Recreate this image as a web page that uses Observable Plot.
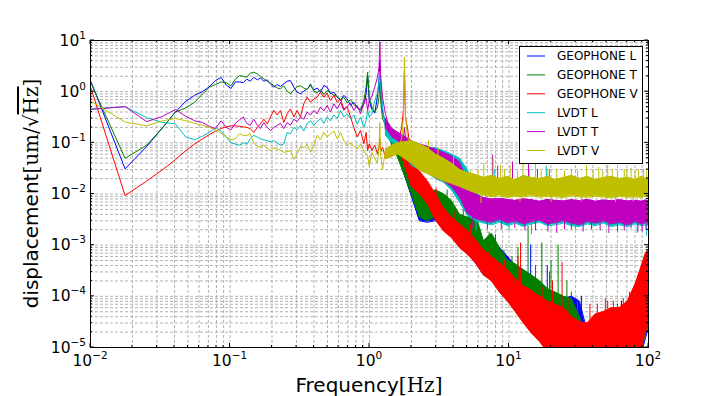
<!DOCTYPE html>
<html><head><meta charset="utf-8">
<script src="https://cdn.jsdelivr.net/npm/d3@7"></script>
<script src="https://cdn.jsdelivr.net/npm/@observablehq/plot@0.6"></script>
<style>body{margin:0;background:#fff;} #chart{width:720px;height:396px;}</style>
</head><body><div id="chart"></div>
<script>
// ---------- DATA ----------
const fLow = [0.0101, 0.0177, 0.0253, 0.033, 0.0406, 0.0482, 0.0558, 0.0635, 0.0711, 0.0787, 0.0863, 0.094, 0.1016, 0.1092, 0.1168, 0.1245, 0.1321, 0.1397];
const fMid = [0.148, 0.157, 0.165, 0.175, 0.185, 0.195, 0.206, 0.218,
  0.230, 0.243, 0.257, 0.271, 0.287, 0.303, 0.320, 0.338,
  0.357, 0.378, 0.399, 0.422, 0.445, 0.471, 0.497, 0.525,
  0.555, 0.587, 0.620, 0.655, 0.692, 0.731, 0.772, 0.816,
  0.862, 0.911, 0.945, 0.970, 0.995, 1.04, 1.09, 1.14,
  1.17, 1.186, 1.20, 1.24, 1.30, 1.37, 1.45, 1.53,
  1.62, 1.70, 1.75, 1.78, 1.81, 1.87, 1.95, 2.05];
const fHigh = [1.3, 1.45, 1.6, 2.0, 2.28, 2.6, 2.97, 3.39, 3.87, 4.42, 5.04,
  5.75, 6.57, 7.49, 8.55, 9.76, 11.1, 12.7, 14.5,
  16.6, 18.9, 21.5, 24.6, 28.1, 32.0, 36.5, 41.7,
  47.6, 54.3, 62.0, 70.7, 80.7, 89.1, 95.1, 100];

// GEOPHONE L
const geoL_low = [1.55, 0.031, 0.085, 0.2, 0.40, 0.65, 0.85, 1.0, 1.25, 1.65, 1.9, 1.35, 1.15, 1.55, 1.55, 1.5, 1.75, 1.6];
const geoL_mid = [1.9, 1.7, 1.85, 1.6, 1.7, 1.42, 1.22, 1.38,
  1.26, 1.42, 1.6, 1.65, 1.22, 0.98, 0.91, 1.02,
  1.13, 1.32, 1.08, 1.18, 0.98, 1.32, 1.22, 0.91,
  0.98, 0.78, 0.67, 0.85, 0.72, 0.54, 0.62, 0.5,
  0.43, 0.58, 0.9, 2.0, 0.67, 0.45, 0.38, 0.8,
  1.7, 4.0, 1.6, 0.4, 0.25, 0.17, 0.12, 0.09,
  0.07, 0.05, 0.04, 0.045, 0.035, 0.028, 0.022, 0.018];
const geoL_hi = [0.28, 0.14, 0.08, 0.028, 0.013, 0.009, 0.01, 0.009, 0.0065, 0.0038, 0.003,
  0.0035, 0.0011, 0.0013, 0.0009, 0.0006, 0.0004, 0.0003, 0.00024,
  0.00018, 0.00013, 0.0001, 0.00009, 0.0001, 0.00008, 0.00002, 0.000015,
  0.000015, 0.000015, 0.000012, 0.000012, 0.00002, 0.0002, 0.0005, 0.0007];
const geoL_lo = [0.19, 0.1, 0.055, 0.009, 0.003, 0.0028, 0.003, 0.003, 0.002, 0.0009, 0.0007,
  0.00045, 0.00026, 0.00022, 0.00016, 0.00012, 0.000055, 0.00005, 0.00004,
  0.00003, 0.000018, 0.000014, 0.000011, 0.000009, 0.000008, 0.000008, 0.000008,
  0.000008, 0.000008, 0.000008, 0.000008, 0.000008, 0.000008, 0.000015, 0.000025];
const geoL_spikes = [[9.8,0.0002,0.0006],[14.3,0.0002,0.001],[18.8,0.0001,0.0004],[33,0.00003,0.0001],[64,0.00001,0.00008],[85,0.00001,0.00006]];

// GEOPHONE T
const geoT_low = [1.45, 0.050, 0.09, 0.2, 0.40, 0.48, 0.62, 0.9, 1.22, 1.38, 1.55, 1.5, 1.3, 1.75, 2.05, 2.0, 1.9, 2.3];
const geoT_mid = [2.4, 2.23, 1.98, 1.78, 1.6, 1.47, 1.32, 1.18,
  1.13, 1.3, 1.02, 0.91, 1.08, 1.26, 1.3, 1.18,
  1.1, 1.42, 1.02, 0.95, 1.1, 0.88, 1.05, 0.95,
  0.86, 0.8, 0.7, 0.78, 0.6, 0.7, 0.56, 0.48,
  0.45, 0.67, 1.22, 2.4, 0.78, 0.5, 0.4, 0.5,
  0.78, 1.5, 0.7, 0.3, 0.22, 0.15, 0.11, 0.08,
  0.06, 0.045, 0.04, 0.05, 0.032, 0.03, 0.024, 0.02];
const geoT_hi = [0.26, 0.13, 0.075, 0.03, 0.014, 0.0101, 0.012, 0.0101, 0.0074, 0.004, 0.0035,
  0.004, 0.0012, 0.0017, 0.0009, 0.0005, 0.00043, 0.00033, 0.00026,
  0.0002, 0.00014, 0.00012, 0.0001, 0.00009, 0.00004, 0.000018, 0.000015,
  0.000015, 0.000015, 0.000015, 0.000015, 0.00002, 0.0002, 0.00037, 0.0005];
const geoT_lo = [0.18, 0.09, 0.05, 0.01, 0.0035, 0.003, 0.0035, 0.0035, 0.0023, 0.001, 0.00078,
  0.0005, 0.00028, 0.00024, 0.00018, 0.00013, 0.00006, 0.000052, 0.000045,
  0.000033, 0.00002, 0.000015, 0.000012, 0.000009, 0.000008, 0.000008, 0.000008,
  0.000008, 0.000008, 0.000008, 0.000008, 0.000008, 0.000008, 0.00002, 0.00003];
const geoT_spikes = [[2.45,0.004,0.009],[3.6,0.004,0.012],[4.7,0.001,0.005],[5.4,0.001,0.0047],[7.2,0.0003,0.0018],[8.0,0.0004,0.0016],[9.2,0.0002,0.0008],[10.5,0.0001,0.0006],[11.6,0.0002,0.0009],[13.7,0.0002,0.0023],[15.5,0.00005,0.0004],[17.2,0.0001,0.0011],[19.5,0.00004,0.0003],[20,0.0001,0.0005],[22.5,0.00008,0.001],[26,0.00003,0.0002],[28,0.00003,0.00012],[31,0.00001,0.00008]];

// GEOPHONE V
const geoV_low = [1.15, 0.0093, 0.018, 0.03, 0.047, 0.07, 0.095, 0.12, 0.145, 0.17, 0.19, 0.205, 0.215, 0.215, 0.21, 0.205, 0.2, 0.19];
const geoV_mid = [0.16, 0.2, 0.235, 0.29, 0.235, 0.32, 0.43, 0.35,
  0.43, 0.25, 0.37, 0.46, 0.32, 0.43, 0.32, 0.58,
  0.78, 0.62, 0.72, 0.78, 0.98, 0.78, 0.94, 0.67,
  0.85, 0.62, 0.72, 0.46, 0.5, 0.32, 0.2, 0.13,
  0.174, 0.096, 0.16, 0.071, 0.096, 0.071, 0.09, 0.061,
  0.082, 0.12, 0.066, 0.082, 0.052, 0.071, 0.061, 0.096,
  0.111, 0.2, 0.43, 2.5, 0.32, 0.2, 0.082, 0.04];
const geoV_hi = [0.07, 0.075, 0.13, 0.045, 0.028, 0.018, 0.0101, 0.0054, 0.0035, 0.0026, 0.0019,
  0.0013, 0.0008, 0.0006, 0.00045, 0.00033, 0.00022, 0.00016, 0.00013,
  0.0001, 0.00008, 0.00007, 0.00006, 0.00004, 0.000032, 0.00003, 0.000045,
  0.00005, 0.00006, 0.00006, 0.00008, 0.00018, 0.0004, 0.0007, 0.0008];
const geoV_lo = [0.05, 0.055, 0.09, 0.014, 0.0101, 0.0064, 0.0031, 0.0019, 0.0014, 0.0009, 0.00066,
  0.00045, 0.00026, 0.0002, 0.00012, 0.00008, 0.00005, 0.00003, 0.000019,
  0.000013, 0.000008, 0.000008, 0.000008, 0.000008, 0.000008, 0.000008, 0.000008,
  0.000008, 0.000008, 0.000008, 0.000008, 0.000008, 0.00001, 0.00002, 0.00003];
const geoV_spikes = [[3.0,0.005,0.013],[4.1,0.002,0.0045],[5.3,0.001,0.0025],[7.1,0.0003,0.00075],[8.0,0.0003,0.0008],[9.3,0.0002,0.0005],[11.6,0.0001,0.0006],[12.1,0.0001,0.0011],[15,0.00005,0.0002],[17.5,0.00004,0.00015],[20.5,0.00005,0.0002],[24,0.00004,0.00046],[27,0.00003,0.00009],[30,0.00002,0.00006],[38,0.00003,0.00007],[43,0.00002,0.00007],[49,0.00003,0.00009],[51,0.00003,0.00008],[56,0.00002,0.00008],[60,0.00003,0.00007],[66,0.00002,0.00009],[73,0.00002,0.00012]];

// LVDT L
const lvdtL_low = [0.46, 0.51, 0.31, 0.25, 0.235, 0.13, 0.115, 0.135, 0.16, 0.2, 0.17, 0.13, 0.1, 0.095, 0.09, 0.1, 0.095, 0.12];
const lvdtL_mid = [0.14, 0.13, 0.12, 0.115, 0.11, 0.105, 0.11, 0.1,
  0.09, 0.095, 0.16, 0.15, 0.2, 0.18, 0.22, 0.17,
  0.24, 0.27, 0.22, 0.26, 0.3, 0.24, 0.32, 0.27,
  0.35, 0.3, 0.43, 0.32, 0.37, 0.3, 0.35, 0.23,
  0.32, 0.2, 0.27, 0.43, 0.32, 0.37, 0.67, 0.91,
  1.65, 2.5, 1.4, 0.5, 0.2, 0.13, 0.12, 0.15,
  0.12, 0.1, 0.09, 0.11, 0.08, 0.09, 0.07, 0.075];
const lvdtL_hi = [0.2, 0.14, 0.13, 0.1, 0.09, 0.08, 0.08, 0.07, 0.06, 0.05, 0.03,
  0.011, 0.008, 0.0075, 0.0078, 0.0072, 0.007, 0.0075, 0.0072,
  0.007, 0.0074, 0.0071, 0.007, 0.0073, 0.007, 0.0074, 0.0069,
  0.0072, 0.007, 0.0073, 0.0069, 0.0071, 0.0068, 0.0072, 0.007];
const lvdtL_lo = [0.14, 0.1, 0.09, 0.036, 0.03, 0.026, 0.02, 0.017, 0.012, 0.007, 0.0038,
  0.003, 0.0027, 0.0025, 0.0028, 0.0024, 0.0027, 0.0023, 0.0026,
  0.0028, 0.0024, 0.0025, 0.0027, 0.0024, 0.0023, 0.0026, 0.0024,
  0.0027, 0.0023, 0.0025, 0.0023, 0.0026, 0.0024, 0.0025, 0.0024];
const lvdtL_spikes = [[5.8,0.004,0.0019],[7.9,0.01,0.03],[10,0.004,0.0019],[14.5,0.004,0.0016],[18.5,0.01,0.035],[19.5,0.01,0.03],[30,0.004,0.002],[83,0.004,0.0017],[97,0.004,0.0015]];

// LVDT T
const lvdtT_low = [0.45, 0.51, 0.26, 0.33, 0.45, 0.33, 0.27, 0.25, 0.21, 0.19, 0.27, 0.2, 0.18, 0.24, 0.28, 0.32, 0.24, 0.22];
const lvdtT_mid = [0.29, 0.22, 0.19, 0.25, 0.2, 0.174, 0.2, 0.22,
  0.24, 0.19, 0.25, 0.22, 0.29, 0.26, 0.32, 0.29,
  0.4, 0.35, 0.43, 0.37, 0.5, 0.42, 0.54, 0.4,
  0.58, 0.46, 0.62, 0.43, 0.52, 0.6, 0.43, 0.54,
  0.37, 0.58, 0.76, 0.43, 0.67, 0.8, 1.22, 1.9,
  3.0, 9.5, 2.2, 0.78, 0.37, 0.22, 0.16, 0.17,
  0.14, 0.145, 0.12, 0.2, 0.13, 0.11, 0.096, 0.09];
const lvdtT_hi = [0.3, 0.19, 0.16, 0.11, 0.095, 0.085, 0.075, 0.065, 0.055, 0.042, 0.018,
  0.01, 0.0085, 0.008, 0.0082, 0.0078, 0.0075, 0.008, 0.0077,
  0.0072, 0.0078, 0.0075, 0.0073, 0.0077, 0.0074, 0.0078, 0.0072,
  0.0076, 0.0074, 0.0077, 0.0073, 0.0075, 0.0072, 0.0076, 0.0074];
const lvdtT_lo = [0.2, 0.13, 0.11, 0.039, 0.034, 0.029, 0.021, 0.018, 0.014, 0.0087, 0.0042,
  0.0033, 0.003, 0.0028, 0.0032, 0.0027, 0.003, 0.0026, 0.0029,
  0.0031, 0.0026, 0.0028, 0.003, 0.0027, 0.0025, 0.0029, 0.0027,
  0.003, 0.0026, 0.0028, 0.0025, 0.0029, 0.0026, 0.0028, 0.0027];
const lvdtT_spikes = [[5.5,0.004,0.0021],[7.0,0.004,0.002],[7.6,0.01,0.057],[8.3,0.01,0.035],[8.8,0.004,0.002],[10.6,0.01,0.042],[11,0.004,0.0021],[13,0.004,0.0019],[13.8,0.01,0.038],[15.5,0.004,0.0019],[16,0.01,0.03],[19,0.004,0.0018],[22,0.004,0.0017],[25,0.004,0.002],[28,0.004,0.002],[34,0.004,0.0018],[39,0.004,0.002],[45,0.004,0.0019],[52,0.004,0.0017],[60,0.004,0.0018],[67,0.004,0.0019],[75,0.004,0.0021],[84,0.004,0.0018],[90,0.004,0.0018],[96,0.004,0.002]];

// LVDT V
const lvdtV_low = [0.65, 0.255, 0.215, 0.27, 0.3, 0.27, 0.24, 0.22, 0.2, 0.18, 0.155, 0.13, 0.115, 0.12, 0.15, 0.14, 0.14, 0.15];
const lvdtV_mid = [0.1, 0.085, 0.082, 0.09, 0.078, 0.07, 0.08, 0.075,
  0.072, 0.065, 0.067, 0.07, 0.048, 0.06, 0.085, 0.08,
  0.095, 0.065, 0.09, 0.14, 0.115, 0.16, 0.13, 0.15,
  0.17, 0.12, 0.16, 0.11, 0.09, 0.1, 0.085, 0.075,
  0.095, 0.07, 0.06, 0.055, 0.035, 0.065, 0.05, 0.04,
  0.08, 0.25, 0.06, 0.03, 0.07, 0.05, 0.08, 0.065,
  0.09, 0.12, 0.3, 4.7, 0.35, 0.13, 0.1, 0.09];
const lvdtV_hi = [0.075, 0.09, 0.1, 0.11, 0.095, 0.08, 0.06, 0.05, 0.04, 0.03, 0.026,
  0.024, 0.021, 0.023, 0.02, 0.022, 0.019, 0.023, 0.021,
  0.02, 0.022, 0.019, 0.021, 0.023, 0.02, 0.022, 0.019,
  0.021, 0.022, 0.02, 0.021, 0.019, 0.022, 0.02, 0.021];
const lvdtV_lo = [0.05, 0.055, 0.06, 0.04, 0.029, 0.025, 0.021, 0.018, 0.016, 0.014, 0.012,
  0.0105, 0.0095, 0.0088, 0.0092, 0.0085, 0.009, 0.0087, 0.0093,
  0.0086, 0.009, 0.0088, 0.0085, 0.0092, 0.0088, 0.0086, 0.009,
  0.0087, 0.0084, 0.009, 0.0086, 0.0088, 0.0085, 0.009, 0.0087];
const lvdtV_spikes = [[2.65,0.03,0.11],[3.1,0.025,0.08],[4.0,0.015,0.06],[5.3,0.012,0.028],[6.0,0.012,0.03],[6.3,0.012,0.0065],[6.6,0.012,0.039],[7.7,0.012,0.05],[8.7,0.012,0.036],[9.3,0.012,0.03],[10.2,0.012,0.035],[11.5,0.012,0.028],[12,0.012,0.007],[12.6,0.012,0.045],[14,0.012,0.03],[15.5,0.012,0.04],[17,0.012,0.028],[19,0.012,0.03],[20,0.012,0.0068],[22,0.012,0.03],[25,0.012,0.028],[28,0.012,0.03],[31,0.012,0.028],[33,0.012,0.007],[36,0.012,0.036],[40,0.012,0.03],[44,0.012,0.033],[47,0.012,0.028],[51,0.012,0.036],[55,0.012,0.03],[58,0.012,0.0068],[60,0.012,0.028],[67,0.012,0.03],[70,0.012,0.03],[75,0.012,0.032],[78,0.012,0.007],[80,0.012,0.028],[85,0.012,0.03],[92,0.012,0.03],[97,0.012,0.028]];

const seriesNames = ["GEOPHONE L", "GEOPHONE T", "GEOPHONE V", "LVDT L", "LVDT T", "LVDT V"];
const seriesColors = ["#0000ff", "#008000", "#ff0000", "#00bfbf", "#bf00bf", "#bfbf00"];
const xTickValues = [0.01, 0.1, 1, 10, 100];
const xTickExps = [-2, -1, 0, 1, 2];
const yTickValues = [1e-5, 1e-4, 1e-3, 1e-2, 1e-1, 1, 10];
const yTickExps = [-5, -4, -3, -2, -1, 0, 1];

// ---------- BUILD ----------
const fLine = [...fLow, ...fMid];
const series = [
  {low: geoL_low, mid: geoL_mid, hi: geoL_hi, lo: geoL_lo, spikes: geoL_spikes},
  {low: geoT_low, mid: geoT_mid, hi: geoT_hi, lo: geoT_lo, spikes: geoT_spikes},
  {low: geoV_low, mid: geoV_mid, hi: geoV_hi, lo: geoV_lo, spikes: geoV_spikes},
  {low: lvdtL_low, mid: lvdtL_mid, hi: lvdtL_hi, lo: lvdtL_lo, spikes: lvdtL_spikes},
  {low: lvdtT_low, mid: lvdtT_mid, hi: lvdtT_hi, lo: lvdtT_lo, spikes: lvdtT_spikes},
  {low: lvdtV_low, mid: lvdtV_mid, hi: lvdtV_hi, lo: lvdtV_lo, spikes: lvdtV_spikes}
].map((s, k) => ({...s, color: seriesColors[k], name: seriesNames[k]}));

const xGrid = d3.scaleLog().domain([0.01, 100]).ticks();
const yGrid = d3.scaleLog().domain([1e-5, 10]).ticks();
const gridStyle = {stroke: "#b4b4b4", strokeWidth: 1, strokeDasharray: "3,2"};

const marks = [
  Plot.ruleX(xGrid, gridStyle),
  Plot.ruleY(yGrid, gridStyle)
];
for (const s of series) {
  const vals = [...s.low, ...s.mid];
  const lineData = fLine.map((f, i) => ({f, v: vals[i]}));
  const band = fHigh.map((f, i) => ({f, lo: s.lo[i], hi: s.hi[i]}));
  marks.push(
    Plot.areaY(band, {x: "f", y1: "lo", y2: "hi", fill: s.color, clip: true}),
    Plot.line(band, {x: "f", y: "hi", stroke: s.color, strokeWidth: 1, clip: true}),
    Plot.line(band, {x: "f", y: "lo", stroke: s.color, strokeWidth: 1, clip: true}),
    Plot.line(lineData, {x: "f", y: "v", stroke: s.color, strokeWidth: 1, clip: true}),
    Plot.ruleX(s.spikes, {x: d => d[0], y1: d => d[1], y2: d => d[2], stroke: s.color, strokeWidth: 1, clip: true})
  );
}
marks.push(Plot.frame({stroke: "black", strokeWidth: 1}));

const plot = Plot.plot({
  width: 720, height: 396,
  marginLeft: 90, marginRight: 72, marginTop: 40, marginBottom: 49,
  x: {type: "log", domain: [0.01, 100], axis: null},
  y: {type: "log", domain: [1e-5, 10], axis: null},
  style: {background: "white", overflow: "visible"},
  marks
});

const sx = plot.scale("x"), sy = plot.scale("y");
const svg = d3.select(plot);
const X0 = sx.apply(0.01), X1 = sx.apply(100), Y0 = sy.apply(1e-5), Y1 = sy.apply(10);

// inward tick marks
const tg = svg.append("g").attr("stroke", "black").attr("stroke-width", 1);
const isMajor = v => Math.abs(Math.log10(v) - Math.round(Math.log10(v))) < 1e-6;
xGrid.forEach(v => {
  const x = sx.apply(v), len = isMajor(v) ? 4 : 2;
  tg.append("line").attr("x1", x).attr("x2", x).attr("y1", Y0).attr("y2", Y0 - len);
  tg.append("line").attr("x1", x).attr("x2", x).attr("y1", Y1).attr("y2", Y1 + len);
});
yGrid.forEach(v => {
  const y = sy.apply(v), len = isMajor(v) ? 4 : 2;
  tg.append("line").attr("y1", y).attr("y2", y).attr("x1", X0).attr("x2", X0 + len);
  tg.append("line").attr("y1", y).attr("y2", y).attr("x1", X1).attr("x2", X1 - len);
});

const sup = e => (e < 0 ? "\u2212" + (-e) : String(e));
const lg = svg.append("g").attr("font-family", "DejaVu Sans").attr("fill", "#000");
xTickValues.forEach((v, i) => {
  const t = lg.append("text").attr("x", sx.apply(v)).attr("y", 366).attr("text-anchor", "middle").attr("font-size", 15.5);
  t.append("tspan").text("10");
  t.append("tspan").attr("dy", -7).attr("font-size", 10.5).text(sup(xTickExps[i]));
});
yTickValues.forEach((v, i) => {
  const t = lg.append("text").attr("x", 86).attr("y", sy.apply(v) + 5.5).attr("text-anchor", "end").attr("font-size", 15.5);
  t.append("tspan").text("10");
  t.append("tspan").attr("dy", -7).attr("font-size", 10.5).text(sup(yTickExps[i]));
});

// axis titles
const xt = lg.append("text").attr("x", (X0 + X1) / 2).attr("y", 392).attr("text-anchor", "middle").attr("font-size", 20);
xt.append("tspan").text("Frequency");
xt.append("tspan").attr("font-family", "DejaVu Serif").text("[Hz]");
const yt = lg.append("text").attr("transform", `translate(38,${(Y0 + Y1) / 2}) rotate(-90)`).attr("text-anchor", "middle").attr("font-size", 20);
yt.append("tspan").text("displacement");
yt.append("tspan").attr("font-family", "DejaVu Serif").text("[um/\u221A");
yt.append("tspan").attr("font-family", "DejaVu Serif").style("text-decoration", "overline").text("Hz");
yt.append("tspan").attr("font-family", "DejaVu Serif").text("]");

// legend
const leg = svg.append("g");
leg.append("rect").attr("x", 519.5).attr("y", 46.5).attr("width", 123).attr("height", 117).attr("fill", "white").attr("stroke", "black").attr("stroke-width", 1);
series.forEach((s, i) => {
  const y = 56 + i * 18.9;
  leg.append("line").attr("x1", 527).attr("x2", 545).attr("y1", y).attr("y2", y).attr("stroke", s.color).attr("stroke-width", 1);
  leg.append("text").attr("x", 557).attr("y", y + 4.3).attr("text-anchor", "start").attr("font-family", "DejaVu Sans").attr("font-size", 12).attr("fill", "#000").text(s.name);
});

document.getElementById("chart").appendChild(plot);
</script>
</body></html>
